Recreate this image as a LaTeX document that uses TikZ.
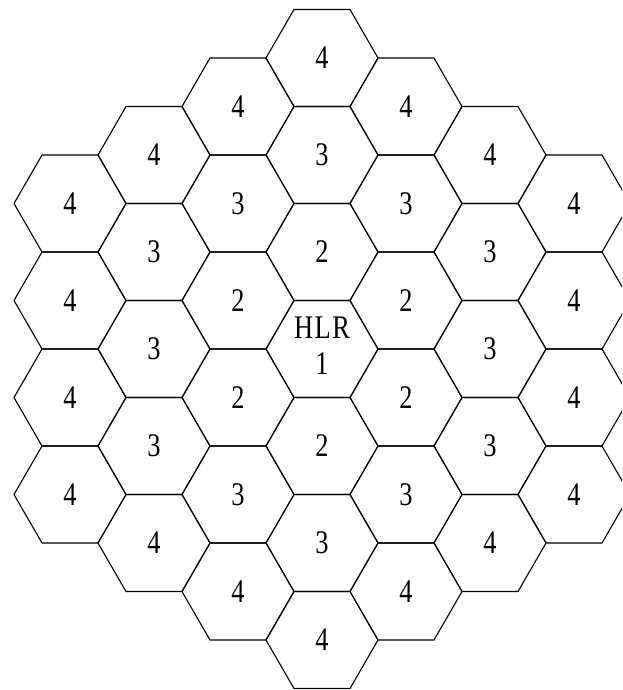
\documentclass[tikz,border=0pt]{standalone}
\usepackage{fontspec}
\setmainfont{Liberation Serif}
\usetikzlibrary{shapes.geometric}
\newcommand\hexlabel[1]{\scalebox{0.8}[1]{#1}}
\tikzset{
  hexcell/.style={regular polygon, regular polygon sides=6, minimum size=112pt,
    inner sep=0pt, outer sep=0pt, draw=black, line width=1.1pt},
  hextext/.style={font=\fontsize{33}{38}\selectfont, inner sep=0pt}
}
\begin{document}
\begin{tikzpicture}[x=1pt,y=-1pt]
\useasboundingbox (0,0) rectangle (622,690);
\clip (0,0) rectangle (622,690);
\fill[white] (0,0) rectangle (622,690);
\foreach \q in {-3,...,3}{
  \foreach \r in {-3,...,3}{
    \pgfmathtruncatemacro\s{-\q-\r}
    \pgfmathtruncatemacro\d{max(abs(\q),abs(\r),abs(\s))}
    \ifnum\d<4
      \ifnum\d=0
        \node[hexcell, label={[hextext]center:{\hexlabel{\begin{tabular}{@{}c@{}}H\kern2pt L\kern2pt R\\[-2pt]1\end{tabular}}}}]
          (hq\q r\r) at ({322+84*\q},{349+97*(\r+\q/2)}) {};
      \else
        \pgfmathtruncatemacro\lab{\d+1}
        \node[hexcell, label={[hextext]center:\hexlabel{\lab}}]
          (hq\q r\r) at ({322+84*\q},{349+97*(\r+\q/2)}) {};
      \fi
    \fi
  }
}
\end{tikzpicture}
\end{document}
